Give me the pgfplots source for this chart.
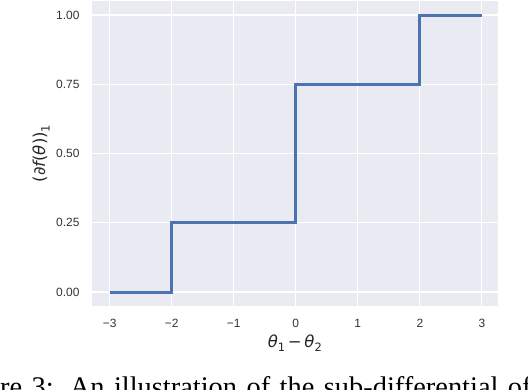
\documentclass[border=0pt]{standalone}
\usepackage{fontspec}
\usepackage{pgfplots}
\pgfplotsset{compat=1.18}
\setmainfont{Liberation Sans}
\newfontfamily\dvs{DejaVu Sans}
\newfontfamily\capfont{Liberation Serif}
\definecolor{sbbg}{HTML}{EAEAF2}
\definecolor{sbblue}{HTML}{4C72B0}
\begin{document}
\begin{tikzpicture}
\begin{axis}[
  at={(91.7bp,-305.85bp)}, anchor=south west,
  scale only axis, width=406.3bp, height=304.7bp,
  xmin=-3.29, xmax=3.26, ymin=-0.05, ymax=1.05,
  axis background/.style={fill=sbbg},
  axis line style={draw=none},
  grid=major, major grid style={white, line width=1.1bp},
  tick style={draw=none},
  xtick={-3,-2,-1,0,1,2,3},
  xticklabels={−3,−2,−1,0,1,2,3},
  ytick={0,0.25,0.5,0.75,1},
  yticklabels={0.00,0.25,0.50,0.75,1.00},
  ticklabel style={font=\fontsize{12}{13}\selectfont, text=black!80},
  xticklabel style={anchor=north, inner sep=0pt, yshift=-13bp},
  yticklabel style={anchor=east, inner sep=0pt, xshift=-12bp},
  xlabel={{\dvs\itshape θ}\raisebox{-0.28em}{\fontsize{11.5}{12}\dvs 1}\,{\dvs −}\,{\dvs\itshape θ}\raisebox{-0.28em}{\fontsize{11.5}{12}\dvs 2}},
  xlabel style={at={(axis description cs:0.5,-0.123)}, anchor=center, inner sep=0pt, font=\fontsize{16.5}{18}\selectfont, text=black!85},
  ylabel={{\dvs (∂{\itshape f}(\itshape θ\upshape))}\raisebox{-0.28em}{\fontsize{11.5}{12}\dvs 1}},
  ylabel style={at={(axis description cs:-0.1248,0.5)}, anchor=center, inner sep=0pt, font=\fontsize{16.5}{18}\selectfont, text=black!85},
]
\addplot[sbblue, line width=3bp, line join=miter] coordinates {
  (-3,0) (-2,0) (-2,0.25) (0,0.25) (0,0.75) (2,0.75) (2,1) (3,1)
};
\end{axis}
\node[anchor=base west, inner sep=0pt] at (0bp,-396bp) {\capfont\fontsize{28.5}{30}\selectfont\spaceskip=9.5bp\relax\llap{Figu}re 3:\hspace{16bp}An illustration of the sub-differential of};
\pgfresetboundingbox
\useasboundingbox (0,0) rectangle (528bp,-390bp);
\end{tikzpicture}
\end{document}
